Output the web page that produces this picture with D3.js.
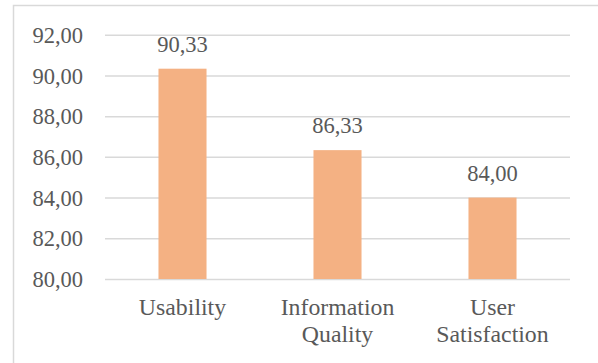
<!DOCTYPE html>
<html><head><meta charset="utf-8">
<script src="https://cdn.jsdelivr.net/npm/d3@7"></script>
<style>body{margin:0;background:#fff}svg{display:block}</style>
</head><body>
<script>
const categories = [["Usability"], ["Information", "Quality"], ["User", "Satisfaction"]];
const values = [90.33, 86.33, 84.00];
const yTicks = [80, 82, 84, 86, 88, 90, 92];

const W = 598, H = 363;
const fmt = v => d3.format(".2f")(v).replace(".", ",");
const font = "'Liberation Serif','Times New Roman',serif";
const svg = d3.select("body").append("svg").attr("width", W).attr("height", H);

svg.append("rect").attr("x", 13.5).attr("y", 5.5).attr("width", 700).attr("height", 500)
  .attr("fill", "none").attr("stroke", "#d9d9d9").attr("stroke-width", 1.5);

const x = d3.scaleBand().domain(d3.range(values.length)).range([105, 570]).paddingInner(0.69).paddingOuter(0.345);
const y = d3.scaleLinear().domain([80, 92]).range([279, 34.7]);

const yAxis = svg.append("g").attr("transform", "translate(105,0)")
  .call(d3.axisLeft(y).tickValues(yTicks).tickFormat(fmt).tickSize(-465).tickPadding(22));
yAxis.select(".domain").remove();
yAxis.selectAll(".tick line").attr("stroke", "#d9d9d9").attr("stroke-width", 1.5);
yAxis.selectAll(".tick text").attr("fill", "#595959").attr("font-family", font).style("font-family", font).style("font-size", "22.5px").attr("dy", "0.34em");

svg.selectAll("rect.bar").data(values).enter().append("rect").attr("class", "bar")
  .attr("x", (d, i) => x(i)).attr("width", x.bandwidth())
  .attr("y", d => y(d)).attr("height", d => y(80) - y(d)).attr("fill", "#F4B183");

svg.selectAll("text.val").data(values).enter().append("text").attr("class", "val")
  .attr("x", (d, i) => x(i) + x.bandwidth() / 2).attr("y", d => y(d) - 17)
  .attr("text-anchor", "middle").attr("fill", "#595959")
  .style("font-family", font).style("font-size", "22.5px").text(fmt);

const xl = svg.selectAll("text.cat").data(categories).enter().append("text").attr("class", "cat")
  .attr("text-anchor", "middle").attr("fill", "#595959")
  .style("font-family", font).style("font-size", "23.8px");
xl.each(function (lines, i) {
  d3.select(this).selectAll("tspan").data(lines).enter().append("tspan")
    .attr("x", x(i) + x.bandwidth() / 2).attr("y", (d, j) => 315 + j * 27).text(d => d);
});
</script>
</body></html>
